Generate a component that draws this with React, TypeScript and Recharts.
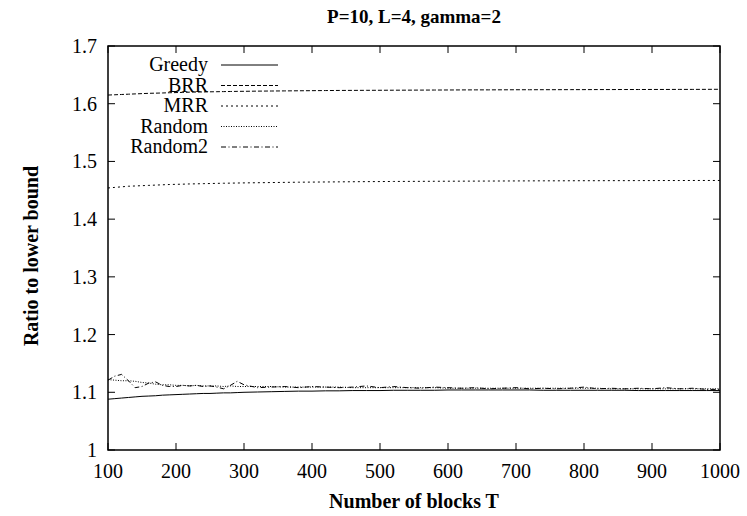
import { LineChart, Line, XAxis, YAxis, Legend, ReferenceArea } from "recharts";

const title = "P=10, L=4, gamma=2";
const xTitle = "Number of blocks T";
const yTitle = "Ratio to lower bound";

const xTicks = [100, 200, 300, 400, 500, 600, 700, 800, 900, 1000];
const yTicks = [1, 1.1, 1.2, 1.3, 1.4, 1.5, 1.6, 1.7];

const T = [
  100, 110, 120, 130, 140, 150, 160, 170, 180, 190, 200, 210, 220, 230, 240, 250, 260, 270, 280, 290, 300,
  320, 340, 360, 380, 400, 420, 440, 460, 480, 500, 520, 540, 560, 580, 600, 620, 640, 660, 680, 700,
  720, 740, 760, 780, 800, 820, 840, 860, 880, 900, 920, 940, 960, 980, 1000,
];

const greedy = [
  1.088, 1.089, 1.09, 1.091, 1.092, 1.093, 1.0935, 1.094, 1.095, 1.0955, 1.096, 1.0965, 1.097, 1.0975, 1.098, 1.098, 1.0985, 1.099, 1.099, 1.0995, 1.1,
  1.1005, 1.101, 1.1015, 1.102, 1.102, 1.1025, 1.1025, 1.103, 1.103, 1.103, 1.1035, 1.1035, 1.1035, 1.1035, 1.104, 1.104, 1.104, 1.104, 1.104, 1.104,
  1.104, 1.1035, 1.1035, 1.1035, 1.1035, 1.1035, 1.1035, 1.1035, 1.103, 1.103, 1.103, 1.103, 1.103, 1.103, 1.103,
];

const brr = [
  1.615, 1.6155, 1.616, 1.6165, 1.617, 1.6175, 1.618, 1.6183, 1.6186, 1.619, 1.6193, 1.6196, 1.62, 1.6202, 1.6204, 1.6206, 1.6208, 1.621, 1.6212, 1.6214, 1.6215,
  1.6218, 1.622, 1.6222, 1.6224, 1.6226, 1.6228, 1.623, 1.6231, 1.6232, 1.6233, 1.6234, 1.6235, 1.6236, 1.6237, 1.6238, 1.6239, 1.624, 1.624, 1.6241, 1.6242,
  1.6242, 1.6243, 1.6243, 1.6244, 1.6244, 1.6245, 1.6245, 1.6246, 1.6246, 1.6247, 1.6247, 1.6248, 1.6248, 1.6249, 1.625,
];

const mrr = [
  1.454, 1.455, 1.456, 1.457, 1.4575, 1.458, 1.4585, 1.459, 1.4595, 1.46, 1.4603, 1.4606, 1.461, 1.4612, 1.4615, 1.4617, 1.462, 1.4622, 1.4624, 1.4626, 1.4628,
  1.4631, 1.4634, 1.4637, 1.464, 1.4642, 1.4644, 1.4646, 1.4648, 1.465, 1.4651, 1.4653, 1.4654, 1.4655, 1.4656, 1.4657, 1.4658, 1.4659, 1.466, 1.4661, 1.4662,
  1.4663, 1.4664, 1.4664, 1.4665, 1.4666, 1.4666, 1.4667, 1.4667, 1.4668, 1.4668, 1.4669, 1.4669, 1.467, 1.467, 1.467,
];

const random = [
  1.122, 1.121, 1.12, 1.12, 1.119, 1.117, 1.116, 1.114, 1.113, 1.113, 1.112, 1.112, 1.111, 1.112, 1.111, 1.111, 1.111, 1.11, 1.111, 1.11, 1.11,
  1.11, 1.11, 1.109, 1.109, 1.109, 1.109, 1.109, 1.108, 1.108, 1.108, 1.108, 1.108, 1.108, 1.108, 1.107, 1.107, 1.107, 1.107, 1.107, 1.107,
  1.107, 1.107, 1.107, 1.107, 1.107, 1.107, 1.106, 1.106, 1.106, 1.106, 1.106, 1.106, 1.106, 1.106, 1.106,
];

const random2 = [
  1.121, 1.128, 1.131, 1.12, 1.108, 1.11, 1.116, 1.118, 1.112, 1.11, 1.11, 1.112, 1.111, 1.112, 1.11, 1.111, 1.109, 1.106, 1.112, 1.119, 1.113,
  1.108, 1.109, 1.11, 1.108, 1.11, 1.109, 1.108, 1.109, 1.111, 1.108, 1.11, 1.108, 1.107, 1.109, 1.108, 1.107, 1.108, 1.106, 1.107, 1.108,
  1.106, 1.107, 1.106, 1.107, 1.109, 1.106, 1.107, 1.106, 1.107, 1.106, 1.108, 1.106, 1.107, 1.105, 1.105,
];

const seriesNames = ["Greedy", "BRR", "MRR", "Random", "Random2"];
const seriesKeys = ["greedy", "brr", "mrr", "random", "random2"];

// gnuplot-ish line types
const dashes: Record<string, string | undefined> = {
  greedy: undefined,
  brr: "4 2",
  mrr: "2 3",
  random: "1 1.5",
  random2: "5 2.5 1 2.5",
};

const FONT = "'Liberation Serif', 'Times New Roman', serif";
const TICK = 7;

const data = T.map((t, i) => ({
  t,
  greedy: greedy[i],
  brr: brr[i],
  mrr: mrr[i],
  random: random[i],
  random2: random2[i],
}));

function BottomTick(props: any) {
  const { x, y, payload } = props;
  return (
    <g>
      <line x1={x} y1={y} x2={x} y2={y - TICK} stroke="#000" strokeWidth={1} />
      <line x1={x} y1={46} x2={x} y2={46 + TICK} stroke="#000" strokeWidth={1} />
      <text x={x} y={y + 28} textAnchor="middle" fontFamily={FONT} fontSize={20} fill="#000">
        {payload.value}
      </text>
    </g>
  );
}

function LeftTick(props: any) {
  const { x, y, payload } = props;
  return (
    <g>
      <line x1={x} y1={y} x2={x + TICK} y2={y} stroke="#000" strokeWidth={1} />
      <line x1={720} y1={y} x2={720 - TICK} y2={y} stroke="#000" strokeWidth={1} />
      <text x={x - 11} y={y + 7} textAnchor="end" fontFamily={FONT} fontSize={20} fill="#000">
        {String(payload.value)}
      </text>
    </g>
  );
}

function KeyBox() {
  return (
    <svg width={200} height={110}>
      {seriesKeys.map((k, i) => {
        const cy = 13 + i * 20.5;
        return (
          <g key={k}>
            <text x={108} y={cy + 6} textAnchor="end" fontFamily={FONT} fontSize={20} fill="#000">
              {seriesNames[i]}
            </text>
            <line x1={121} y1={cy} x2={178} y2={cy} stroke="#000" strokeWidth={1} strokeDasharray={dashes[k]} />
          </g>
        );
      })}
    </svg>
  );
}

export default function App() {
  return (
    <div style={{ position: "absolute", left: 0, top: 0, background: "#fff" }}>
      <LineChart width={747} height={516} data={data} margin={{ top: 46, right: 27, bottom: 0, left: 0 }}>
        <XAxis
          dataKey="t"
          type="number"
          domain={[100, 1000]}
          ticks={xTicks}
          allowDataOverflow
          height={66}
          tickSize={0}
          tickMargin={0}
          tickLine={false}
          axisLine={false}
          tick={<BottomTick />}
          label={{
            content: (p: any) => (
              <g>
                <text
                  x={p.viewBox.x + p.viewBox.width / 2}
                  y={p.viewBox.y + 58}
                  textAnchor="middle"
                  fontFamily={FONT}
                  fontWeight="bold"
                  fontSize={20}
                  fill="#000"
                >
                  {xTitle}
                </text>
                <text
                  x={p.viewBox.x + p.viewBox.width / 2}
                  y={23}
                  textAnchor="middle"
                  fontFamily={FONT}
                  fontWeight="bold"
                  fontSize={19}
                  fill="#000"
                >
                  {title}
                </text>
              </g>
            ),
          }}
        />
        <YAxis
          type="number"
          domain={[1, 1.7]}
          ticks={yTicks}
          allowDataOverflow
          width={108}
          tickSize={0}
          tickMargin={0}
          tickLine={false}
          axisLine={false}
          tick={<LeftTick />}
          label={{
            content: () => (
              <text
                x={0}
                y={0}
                transform="translate(38 256) rotate(-90)"
                textAnchor="middle"
                fontFamily={FONT}
                fontWeight="bold"
                fontSize={20}
                fill="#000"
              >
                {yTitle}
              </text>
            ),
          }}
        />
        <ReferenceArea
          x1={100}
          x2={1000}
          y1={1}
          y2={1.7}
          fill="none"
          fillOpacity={0}
          stroke="#000"
          strokeWidth={1.5}
          ifOverflow="visible"
        />
        <Legend
          layout="vertical"
          align="center"
          verticalAlign="middle"
          content={() => <KeyBox />}
          wrapperStyle={{ position: "absolute", left: 100, top: 52, width: 200, height: 110 }}
        />
        {seriesKeys.map((k, i) => (
          <Line
            key={k}
            dataKey={k}
            name={seriesNames[i]}
            type="linear"
            stroke="#000"
            strokeWidth={1}
            strokeDasharray={dashes[k]}
            dot={false}
            activeDot={false}
            isAnimationActive={false}
          />
        ))}
      </LineChart>
    </div>
  );
}
